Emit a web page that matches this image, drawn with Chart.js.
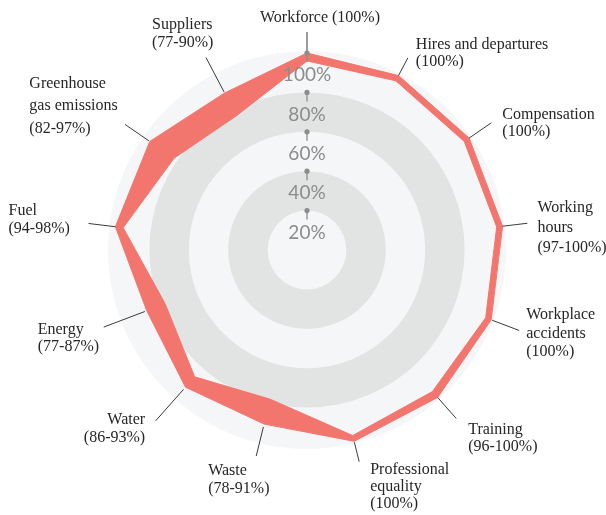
<!DOCTYPE html>
<html>
<head>
<meta charset="utf-8">
<script src="https://cdn.jsdelivr.net/npm/chart.js@4.4.0/dist/chart.umd.min.js"></script>
<style>
  html, body { margin: 0; padding: 0; background: #fff; }
  #wrap { position: relative; width: 606px; height: 515px; }
</style>
</head>
<body>
<div id="wrap"><canvas id="radar"></canvas></div>
<script>
// categories, clockwise from the top
const categories = [
  'Workforce', 'Hires and departures', 'Compensation', 'Working hours',
  'Workplace accidents', 'Training', 'Professional equality', 'Waste',
  'Water', 'Energy', 'Fuel', 'Greenhouse gas emissions', 'Suppliers'
];
// text shown next to each spoke (line breaks as in the picture)
const labelLines = [
  ['Workforce (100%)'],
  ['Hires and departures', '(100%)'],
  ['Compensation', '(100%)'],
  ['Working', 'hours', '(97-100%)'],
  ['Workplace', 'accidents', '(100%)'],
  ['Training', '(96-100%)'],
  ['Professional', 'equality', '(100%)'],
  ['Waste', '(78-91%)'],
  ['Water', '(86-93%)'],
  ['Energy', '(77-87%)'],
  ['Fuel', '(94-98%)'],
  ['Greenhouse', 'gas emissions', '(82-97%)'],
  ['Suppliers', '(77-90%)']
];
// outer and inner edge of the band
const highValues = [100, 100, 100, 100, 100, 100, 100, 91, 93, 87, 98, 97, 90];
const lowValues  = [96, 97, 97, 97, 97, 96, 97, 78, 86, 77, 94, 82, 77];
const tickValues = [20, 40, 60, 80, 100];

// style / placement (not data)
const BAND = '#f3766e';
const rings = [[100, '#f5f6f7'], [80, '#e2e3e3'], [60, '#f5f6f7'], [40, '#e2e3e3'], [20, '#f5f6f7']];
// [leader start, leader end (px beyond the point), text dx, text dy, align, line height]
const labelLayout = [
  [0, 21, 13, -10, 'center', 18],
  [0, 20, 8, -8.7, 'left', 17],
  [0, 27, 11, -4, 'left', 17.7],
  [0, 25, 10, -11, 'left', 20],
  [1, 30, 7, -11, 'left', 18.5],
  [0, 28, 12, 15.7, 'left', 17],
  [1, 21, 11, 12.3, 'left', 17],
  [3, 33, -48, 19, 'left', 18],
  [3, 45, -10.5, 3.3, 'right', 17.5],
  [2, 46, -66, 6.7, 'left', 17.6],
  [0, 27, -80, -8, 'left', 17.3],
  [1, 30, -95.7, -36.7, 'left', 22.5],
  [1, 40, -54, -28.7, 'left', 18]
];

// rings behind the band
const backdrop = {
  id: 'backdrop',
  beforeDatasetsDraw(chart) {
    const r = chart.scales.r, ctx = chart.ctx;
    ctx.save();
    rings.forEach(([v, col]) => {
      ctx.beginPath();
      ctx.arc(r.xCenter, r.yCenter, r.getDistanceFromCenterForValue(v) + (v === 100 ? 2 : 0), 0, Math.PI * 2);
      ctx.fillStyle = col;
      ctx.fill();
    });
    ctx.restore();
  }
};

// leader lines, spoke labels and the tick marks on the top spoke
const annotate = {
  id: 'annotate',
  afterDatasetsDraw(chart) {
    const r = chart.scales.r, ctx = chart.ctx;
    ctx.save();
    // leaders + labels
    ctx.strokeStyle = '#3a3a3a';
    ctx.lineWidth = 1;
    ctx.fillStyle = '#262626';
    ctx.font = '16px "Liberation Serif"';
    ctx.textBaseline = 'alphabetic';
    highValues.forEach((v, i) => {
      const [s, e, dx, dy, align, lh] = labelLayout[i];
      const d = r.getDistanceFromCenterForValue(v);
      const p0 = r.getPointPosition(i, d + s);
      const p1 = r.getPointPosition(i, d + e);
      ctx.beginPath();
      ctx.moveTo(p0.x, p0.y);
      ctx.lineTo(p1.x, p1.y);
      ctx.stroke();
      ctx.textAlign = align;
      labelLines[i].forEach((t, k) => {
        ctx.fillText(t, p1.x + dx, p1.y + dy + k * lh);
      });
    });
    // ticks
    ctx.fillStyle = '#8c8c8c';
    ctx.strokeStyle = '#8c8c8c';
    ctx.lineWidth = 1.3;
    ctx.font = '19px Lato';
    ctx.textAlign = 'center';
    ctx.textBaseline = 'middle';
    tickValues.forEach(v => {
      const p = r.getPointPosition(0, r.getDistanceFromCenterForValue(v));
      ctx.beginPath();
      ctx.arc(p.x, p.y, 2.6, 0, Math.PI * 2);
      ctx.fill();
      ctx.beginPath();
      ctx.moveTo(p.x, p.y);
      ctx.lineTo(p.x, p.y + 9);
      ctx.stroke();
      ctx.fillText(v + '%', p.x, p.y + 22);
    });
    ctx.restore();
  }
};

new Chart(document.getElementById('radar'), {
  type: 'radar',
  data: {
    labels: categories,
    datasets: [
      { label: 'High', data: highValues, fill: '+1', backgroundColor: BAND, borderColor: BAND, borderWidth: 1, pointRadius: 0 },
      { label: 'Low', data: lowValues, fill: false, borderColor: BAND, borderWidth: 1, pointRadius: 0 }
    ]
  },
  options: {
    responsive: true,
    maintainAspectRatio: false,
    animation: false,
    layout: { padding: { top: 53, bottom: 68, left: 110, right: 102 } },
    elements: { line: { tension: 0 } },
    plugins: { legend: { display: false }, tooltip: { enabled: false } },
    scales: {
      r: {
        min: 0,
        max: 100,
        ticks: { display: false, stepSize: 20 },
        grid: { display: false },
        angleLines: { display: false },
        pointLabels: { display: false }
      }
    }
  },
  plugins: [backdrop, annotate]
});
</script>
</body>
</html>
